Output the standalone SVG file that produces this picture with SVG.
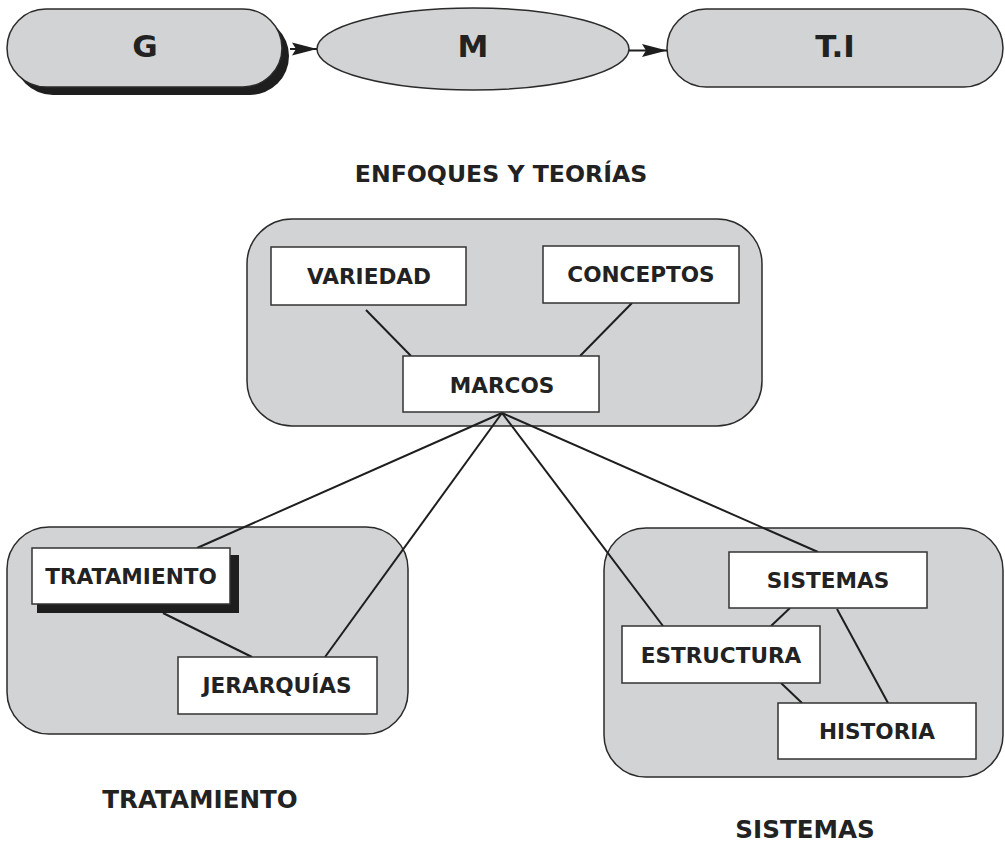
<svg xmlns="http://www.w3.org/2000/svg" width="1005" height="845" viewBox="0 0 1005 845">
<style>
.shape{fill:#d1d3d4;stroke:#2b2b2b;stroke-width:1.5}
.box{fill:#ffffff;stroke:#333333;stroke-width:1.5}
.shadow{fill:#1e1e1e;stroke:none}
.line{stroke:#1e1e1e;stroke-width:2;fill:none}
text{font-family:"DejaVu Sans","Verdana","Liberation Sans",sans-serif;font-weight:bold;fill:#222222;text-anchor:middle}
.big{font-size:31px}
.title{font-size:23.6px}
.foot{font-size:24.6px}
.lbl{font-size:21.6px}
</style>
<defs>
<marker id="arr" markerUnits="userSpaceOnUse" markerWidth="26" markerHeight="14" viewBox="0 0 26 14" refX="25" refY="7" orient="auto">
<path d="M0,0.5 L25,7 L0,13.5 L4,7 z" fill="#1e1e1e"/>
</marker>
</defs>
<rect width="1005" height="845" fill="#ffffff"/>

<g id="node-G">
<rect class="shadow" x="14" y="17" width="275" height="78" rx="39" ry="39"/>
<rect class="shape" x="7" y="9" width="275" height="78" rx="39" ry="39"/>
<text class="big" x="145" y="57">G</text>
</g>
<g id="node-M">
<ellipse class="shape" cx="473" cy="49" rx="156" ry="41"/>
<text class="big" x="473" y="57">M</text>
</g>
<g id="node-TI">
<rect class="shape" x="667" y="9" width="336" height="78" rx="39" ry="39"/>
<text class="big" x="835" y="57">T.I</text>
</g>

<g id="title-enfoques">
<text class="title" x="501" y="182">ENFOQUES Y TEORÍAS</text>
</g>

<g id="group-enfoques">
<rect class="shape" x="247" y="219" width="515" height="207" rx="45" ry="45"/>
</g>
<g id="group-tratamiento">
<rect class="shape" x="7" y="527" width="401" height="207" rx="42" ry="42"/>
</g>
<g id="group-sistemas">
<rect class="shape" x="604" y="528" width="399" height="249" rx="42" ry="42"/>
</g>

<g id="connectors">
<line class="line" x1="290" y1="49" x2="317" y2="49" marker-end="url(#arr)"/>
<line class="line" x1="629" y1="50.5" x2="667" y2="50.5" marker-end="url(#arr)"/>
<line class="line" x1="366" y1="310" x2="411" y2="356"/>
<line class="line" x1="632" y1="303" x2="580" y2="356"/>
<line class="line" x1="502" y1="413" x2="197" y2="548"/>
<line class="line" x1="502" y1="413" x2="325" y2="657"/>
<line class="line" x1="502" y1="413" x2="663" y2="626"/>
<line class="line" x1="502" y1="413" x2="818" y2="552"/>
<line class="line" x1="163" y1="613" x2="252" y2="657"/>
<line class="line" x1="790" y1="608" x2="771" y2="626"/>
<line class="line" x1="837" y1="609" x2="888" y2="703"/>
<line class="line" x1="781" y1="683" x2="802" y2="703"/>
</g>

<g id="node-variedad">
<rect class="box" x="271" y="247" width="195" height="58"/>
<text class="lbl" x="369" y="284">VARIEDAD</text>
</g>
<g id="node-conceptos">
<rect class="box" x="543" y="246" width="196" height="57"/>
<text class="lbl" x="641" y="282">CONCEPTOS</text>
</g>
<g id="node-marcos">
<rect class="box" x="403" y="356" width="196" height="56"/>
<text class="lbl" x="502" y="393">MARCOS</text>
</g>
<g id="node-tratamiento">
<rect class="shadow" x="37" y="555" width="202" height="58"/>
<rect class="box" x="32" y="548" width="198" height="56"/>
<text class="lbl" x="131" y="584">TRATAMIENTO</text>
</g>
<g id="node-jerarquias">
<rect class="box" x="178" y="657" width="199" height="57"/>
<text class="lbl" x="277" y="693">JERARQUÍAS</text>
</g>
<g id="node-sistemas">
<rect class="box" x="729" y="552" width="198" height="56"/>
<text class="lbl" x="828" y="588">SISTEMAS</text>
</g>
<g id="node-estructura">
<rect class="box" x="622" y="626" width="198" height="57"/>
<text class="lbl" x="721" y="663">ESTRUCTURA</text>
</g>
<g id="node-historia">
<rect class="box" x="778" y="703" width="198" height="56"/>
<text class="lbl" x="877" y="739">HISTORIA</text>
</g>

<g id="label-tratamiento">
<text class="foot" x="200" y="808">TRATAMIENTO</text>
</g>
<g id="label-sistemas">
<text class="foot" x="805" y="838">SISTEMAS</text>
</g>
</svg>
